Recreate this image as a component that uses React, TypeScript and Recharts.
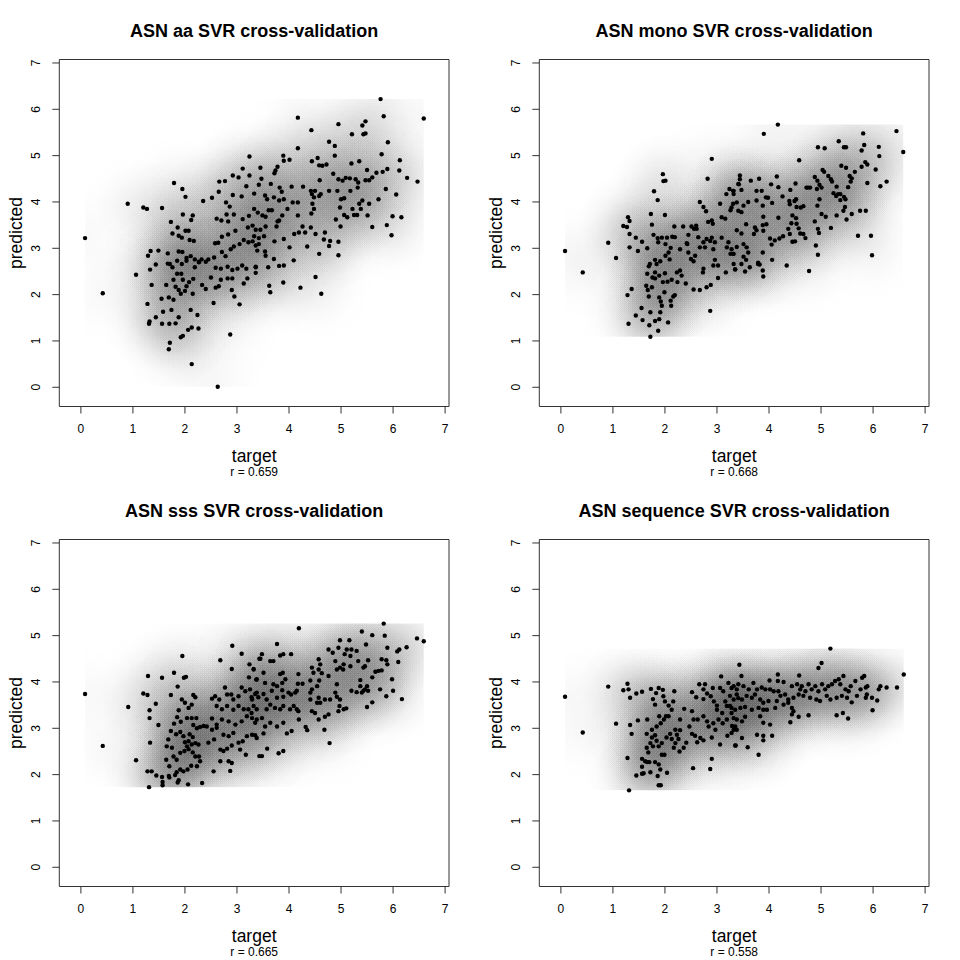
import React from 'react';
import { ScatterChart, Scatter, XAxis, YAxis, ReferenceArea } from 'recharts';

// panel captions
const panelTitles = [
  'ASN aa SVR cross-validation',
  'ASN mono SVR cross-validation',
  'ASN sss SVR cross-validation',
  'ASN sequence SVR cross-validation',
];
const correlations = ['0.659', '0.668', '0.665', '0.558'];
const axisTicks = [0, 1, 2, 3, 4, 5, 6, 7];

// [target, predicted]
const aaPoints: [number, number][] = [
  [0.08,3.22],[0.42,2.03],[0.90,3.96],[1.20,3.88],[1.27,3.85],[1.56,3.87],[1.06,2.43],[1.79,4.41],[1.95,4.28],[2.01,4.11],[2.35,4.02],[2.52,4.09],[3.24,4.98],[2.13,0.50],[2.63,0.01],[1.69,0.82],[1.71,0.96],[2.87,1.14],[1.92,1.08],[1.96,1.11],[2.06,1.24],[2.13,1.29],[2.26,1.27],[1.31,1.37],[1.32,1.42],[1.28,1.80],[1.44,1.51],[1.56,1.37],[1.70,1.37],[1.82,1.38],[1.88,1.51],[1.58,1.63],[1.74,1.67],[2.11,1.67],[2.24,1.56],[1.55,1.91],[1.69,1.94],[1.78,1.89],[2.55,1.82],[2.90,2.10],[2.95,1.96],[3.05,1.79],[1.36,2.21],[1.33,2.54],[1.44,2.65],[1.29,2.84],[1.34,2.94],[1.49,2.95],[1.67,2.89],[1.67,2.67],[1.71,2.66],
  [1.85,2.45],[1.93,2.45],[1.96,2.32],[1.82,2.17],[1.88,2.10],[1.92,2.02],[2.00,2.08],[2.03,2.18],[2.08,2.27],[2.16,2.34],[2.15,2.02],[1.78,2.32],[1.64,2.21],[1.94,2.66],[2.03,2.73],[2.19,2.59],[2.27,2.70],[1.76,2.59],
  [1.73,3.57],[1.96,3.73],[2.15,3.71],[2.12,3.61],[1.86,3.45],[1.76,3.32],[1.88,3.27],[1.94,3.23],[2.01,3.38],[2.07,3.38],[2.09,3.18],[2.17,3.16],[1.88,2.93],[1.95,2.92],[2.03,2.79],[2.11,2.83],[2.19,2.76],[2.27,2.71],[2.32,2.76],[1.85,2.73],[2.45,2.76],[2.40,2.71],
  [2.66,4.44],[2.77,4.45],[2.92,4.57],[3.03,4.53],[3.11,4.72],[3.24,4.57],[3.18,4.34],[2.92,4.15],[3.09,4.12],[3.33,4.18],[3.45,4.74],[2.65,4.22],[2.79,3.99],[2.86,3.90],[2.94,3.73],[2.80,3.73],[2.61,3.64],[2.70,3.60],[2.83,3.58],[3.11,3.63],[3.23,3.70],[3.33,3.85],[3.40,3.77],[3.30,3.49],[3.21,3.45],[2.97,3.38],[2.83,3.30],[2.71,3.25],[2.58,3.11],[2.64,3.12],[2.56,2.80],[2.71,2.92],[2.78,2.83],[2.88,2.98],[2.94,3.04],[3.05,3.09],[3.13,3.18],[3.22,3.13],[3.30,3.15],[3.36,3.06],[2.59,2.58],[2.69,2.56],[2.82,2.60],[2.91,2.53],[3.01,2.56],[3.10,2.63],[3.18,2.56],[3.36,2.60],[2.50,2.37],[2.69,2.32],[2.82,2.35],[2.91,2.35],[3.13,2.24],[3.20,2.35],[3.36,2.47],[2.59,2.15],[2.65,2.18],[2.40,2.12],[2.33,2.21],
  [5.76,6.22],[6.59,5.80],[4.17,5.82],[5.82,5.85],[4.95,5.68],[5.41,5.65],[5.47,5.74],[4.43,5.55],[5.21,5.46],[5.43,5.46],[5.47,5.48],[4.17,5.16],[4.77,5.30],[4.88,5.21],[5.90,5.29],[5.78,5.03],[6.13,4.90],[6.12,4.68],[6.27,4.52],[6.47,4.44],[5.86,4.28],[6.06,4.16],[5.72,4.06],[5.99,3.69],[6.16,3.67],[5.88,3.50],[5.97,3.28],[5.60,3.46],[5.51,3.71],[5.35,3.96],[5.54,3.96],[5.41,4.03],[5.22,3.85],[5.38,3.85],[5.06,3.72],[5.12,3.67],[5.25,3.72],[5.31,3.72],[4.99,3.47],[4.90,3.62],[4.98,3.88],[5.00,4.06],[4.77,4.24],[4.93,4.24],[5.06,4.08],[5.18,4.24],[5.32,4.31],[4.85,4.61],[4.95,4.49],[5.03,4.46],[5.09,4.52],[5.17,4.51],[5.28,4.49],[5.33,4.42],[5.50,4.69],[5.47,4.47],[5.54,4.47],[5.60,4.53],[5.68,4.63],[5.80,4.65],[5.89,4.71],[5.20,4.83],[5.35,4.88],[4.88,5.00],[4.72,4.81],[4.64,4.78],[4.58,4.79],[4.55,4.95],[4.44,4.88],[4.01,4.91],[3.90,4.89],[3.89,5.00],[3.78,4.76],[3.74,4.68],[3.72,4.62],[3.47,4.50],[3.42,4.37],[3.65,4.39],[3.82,4.31],[4.05,4.33],[4.27,4.33],[4.42,4.24],[3.86,4.22],[3.90,4.06],[3.71,4.10],[3.81,4.03],[3.54,4.14],[3.58,4.06],[4.07,3.99],[4.17,3.99],[4.44,4.17],[4.48,4.10],[4.58,4.13],[4.61,4.17],[4.50,4.24],[4.45,3.96],[4.48,3.85],[4.43,3.75],[4.59,4.47],[4.17,3.71],[4.26,3.47],[3.97,3.85],[3.87,3.71],[3.81,3.60],[3.61,3.82],[3.67,3.82],[3.49,3.71],[3.55,3.68],[3.76,3.47],[3.78,3.58],[3.55,3.47],[3.45,3.40],[3.36,3.40],[3.52,3.26],[3.42,3.22],[3.33,3.26],[3.72,3.15],[3.90,3.20],[4.01,3.02],[4.10,3.31],[4.19,3.34],[4.31,3.34],[4.42,3.45],[4.51,3.31],[4.69,3.34],[4.67,3.19],[4.79,3.16],[4.77,3.05],[4.95,3.14],[4.35,3.04],[4.58,2.88],[4.95,2.85],[4.09,2.74],[3.90,2.63],[3.81,2.62],[3.71,2.77],[3.60,2.59],[3.54,2.93],[3.55,2.84],[3.36,2.59],[3.42,3.09],[3.39,2.95],[3.62,2.19],[3.64,2.05],[3.89,2.26],[4.22,2.15],[4.51,2.38],[4.62,2.02],
];

const monoPoints: [number, number][] = [
  [0.08,2.94],[0.42,2.48],[0.91,3.12],[1.06,2.79],[2.90,4.93],[2.82,4.50],[1.96,4.60],[1.97,4.45],[2.01,4.46],[1.79,4.23],[1.86,4.04],[1.73,3.74],[2.00,3.72],[1.75,3.51],[1.29,3.67],[1.32,3.59],[1.20,3.48],[1.27,3.46],[1.32,3.31],[1.44,3.23],[1.56,3.14],[1.48,2.94],[1.32,3.02],[1.66,3.00],[1.78,3.29],[1.86,3.22],[1.94,3.23],[2.04,3.23],[2.14,3.25],[2.19,3.24],[2.18,3.47],[1.87,3.13],[2.01,3.09],[2.11,3.01],[2.07,2.91],[2.01,2.84],[2.35,3.47],[2.29,2.98],[2.43,3.09],[1.81,2.75],[1.91,2.72],[1.84,2.66],[1.71,2.66],[1.69,2.61],[2.09,2.76],[1.66,2.45],[1.81,2.48],[1.89,2.41],[2.00,2.46],[1.81,2.35],[1.96,2.27],[2.05,2.28],[2.13,2.32],[2.24,2.27],[2.23,2.48],[2.29,2.52],[2.32,2.41],[2.40,2.24],[2.55,2.11],[2.67,2.10],[2.80,2.16],[2.88,2.21],[1.64,2.19],[1.67,2.10],[1.75,2.16],[1.76,2.37],[1.36,2.12],[1.28,1.99],[1.69,1.96],[1.99,2.05],[1.89,1.94],[1.92,1.85],[1.94,1.76],[2.16,1.96],[2.11,1.87],[2.19,1.99],[1.55,1.71],[1.44,1.55],[1.57,1.45],[1.72,1.62],[1.91,1.62],[2.12,1.76],[1.30,1.37],[1.81,1.43],[1.89,1.47],[1.70,1.34],[2.06,1.40],[1.87,1.22],[1.72,1.09],[2.87,1.65],
  [2.60,3.49],[2.61,3.42],[2.56,3.42],[2.51,3.47],[2.45,3.29],[2.42,3.11],[2.64,3.24],[2.74,3.13],[2.80,3.20],[2.67,3.02],[2.77,3.02],[2.93,2.98],[2.87,3.16],[2.45,2.91],[2.50,2.77],[2.58,2.84],[2.55,2.72],[2.74,2.56],[2.73,2.48],[2.96,2.75],[3.02,2.63],[2.93,2.63],[3.02,2.36],[3.17,2.48],[2.67,4.00],[2.74,3.89],[2.79,3.80],[2.83,3.57],[2.92,3.53],[2.90,3.60],[3.06,3.96],[3.09,3.67],[3.16,3.64],[3.26,3.82],[3.31,3.96],[3.24,4.28],[3.32,4.24],[3.18,4.17],[3.32,4.17],[2.90,3.23],[2.96,3.13],[3.09,3.23],[3.22,3.13],[3.19,3.02],[3.28,2.98],[3.32,2.88],[3.26,2.88],[3.32,2.66],[3.35,2.54],[3.44,4.49],[3.42,4.38],
  [4.17,5.67],[3.90,5.47],[6.45,5.53],[6.58,5.08],[5.81,5.48],[5.34,5.31],[5.44,5.18],[5.48,5.18],[4.94,5.18],[5.07,5.16],[5.83,5.23],[5.78,5.11],[6.11,5.19],[6.12,4.99],[4.58,4.90],[5.85,4.86],[5.89,4.81],[5.78,4.76],[6.05,4.70],[6.26,4.44],[6.14,4.34],[5.89,4.41],[5.39,4.78],[5.48,4.74],[5.65,4.65],[5.55,4.56],[5.59,4.51],[5.57,4.44],[5.52,4.32],[5.44,4.11],[5.47,4.06],[5.37,4.04],[5.29,4.13],[5.03,4.69],[5.06,4.65],[5.14,4.56],[5.19,4.49],[5.21,4.44],[5.30,4.33],[5.24,4.19],[5.33,4.17],[5.37,4.17],[4.88,4.54],[4.93,4.46],[4.97,4.37],[5.01,4.31],[4.92,4.28],[4.79,4.31],[4.75,4.31],[4.97,4.06],[4.93,3.92],[5.01,3.74],[5.09,3.68],[5.19,3.44],[5.30,3.71],[5.46,3.89],[5.43,3.81],[5.49,3.62],[5.59,3.74],[5.75,3.81],[5.86,3.81],[5.71,3.27],[5.96,3.27],[5.98,2.85],[4.88,3.58],[4.94,3.42],[4.96,3.33],[4.90,3.06],[4.94,2.86],[4.77,2.51],[4.66,3.91],[4.61,3.88],[4.53,3.89],[4.49,4.02],[4.52,4.06],[4.40,3.95],[4.39,4.02],[4.41,4.26],[4.51,4.40],[4.72,4.31],[4.45,3.71],[4.52,3.65],[4.43,3.54],[4.53,3.53],[4.57,3.43],[4.60,3.32],[4.66,3.31],[4.70,3.22],[4.50,3.15],[4.40,3.31],[4.37,3.42],[4.45,3.14],[4.26,4.12],[4.18,4.32],[4.15,4.55],[4.04,4.38],[3.98,4.09],[4.06,3.98],[4.18,3.66],[4.27,3.26],[4.20,3.21],[4.11,3.17],[4.05,3.08],[4.02,3.21],[3.95,3.52],[3.89,3.68],[3.88,3.50],[4.34,2.63],[4.06,2.75],[3.88,2.91],[3.88,2.52],[3.89,2.39],[3.79,2.69],[3.82,2.65],[3.81,4.50],[3.65,4.46],[3.86,4.24],[3.94,4.10],[3.76,4.24],[3.88,3.92],[3.76,4.03],[3.60,4.00],[3.51,3.92],[3.47,3.78],[3.44,4.57],[3.41,4.39],[3.47,4.26],[3.31,4.24],[3.38,3.99],[3.28,3.88],[3.41,3.81],[3.56,3.52],[3.38,3.39],[3.47,3.32],[3.73,3.45],[3.76,3.39],[3.89,3.38],[3.71,3.31],[3.38,3.03],[3.51,3.09],[3.57,3.02],[3.60,2.91],[3.51,2.82],[3.31,2.88],[3.56,2.75],[3.47,2.66],[3.35,2.55],[3.54,2.50],[3.63,2.59],[3.79,2.66],
];

const sssPoints: [number, number][] = [
  [0.08,3.74],[0.42,2.62],[0.91,3.46],[1.06,2.31],[1.29,4.13],[1.56,4.09],[1.79,4.20],[1.95,4.56],[1.98,4.09],[2.02,4.11],[1.86,3.90],[1.73,3.72],[1.20,3.75],[1.28,3.72],[1.44,3.53],[1.32,3.39],[1.32,3.22],[1.49,3.07],[1.33,2.69],[1.28,2.07],[1.36,2.07],[1.45,1.98],[1.31,1.73],[1.56,1.95],[1.57,1.84],[1.57,1.77],[1.69,1.97],[1.81,1.99],[1.86,1.83],[1.88,1.88],[2.06,1.79],[2.33,1.82],[2.55,2.07],[2.87,2.08],
  [1.94,3.62],[2.00,3.55],[2.07,3.44],[2.13,3.51],[2.20,3.67],[2.16,3.72],[1.88,3.39],[1.85,3.24],[1.79,3.10],[1.92,3.14],[2.04,3.22],[2.13,3.22],[2.22,3.22],[2.16,3.07],[2.23,3.00],[2.29,3.03],[2.36,3.05],
  [1.73,2.94],[1.83,2.87],[1.91,2.92],[1.97,2.83],[2.09,2.87],[2.15,2.81],[2.07,2.72],[2.00,2.70],[2.04,2.61],[2.13,2.65],[2.20,2.68],[2.26,2.65],[1.68,2.76],[1.65,2.61],[1.75,2.58],[1.78,2.39],[1.84,2.32],[1.91,2.47],[1.99,2.51],[2.07,2.55],[2.15,2.48],[2.20,2.39],[2.27,2.39],[2.29,2.29],[2.23,2.18],[2.12,2.19],[2.05,2.11],[1.97,2.07],[1.91,2.11],[1.84,2.05],[1.70,2.18],[1.64,2.32],[1.70,1.94],
  [2.52,3.64],[2.58,3.69],[2.66,3.62],[2.77,3.88],[2.81,3.73],[2.89,3.73],[2.93,3.62],[3.03,3.69],[3.09,3.88],[3.16,3.80],[3.25,3.84],[3.29,3.62],[3.38,3.77],[3.09,4.61],[2.91,4.78],[2.68,4.47],[2.90,4.28],[3.24,4.38],[3.32,4.28],[3.23,4.10],[3.37,4.05],[3.43,4.50],[2.61,3.48],[2.71,3.41],[2.81,3.48],[2.93,3.40],[3.03,3.48],[3.13,3.41],[3.22,3.41],[3.32,3.48],[2.52,3.21],[2.61,3.08],[2.71,3.19],[2.84,3.15],[2.97,3.08],[3.09,3.15],[3.19,3.26],[3.29,3.22],[3.38,3.19],[2.42,3.04],[2.52,2.97],[2.61,3.01],[2.74,2.86],[2.84,2.83],[2.93,2.90],[3.03,2.69],[3.11,2.72],[3.19,2.83],[3.29,2.86],[3.38,2.79],[2.45,2.69],[2.56,2.76],[2.68,2.54],[2.74,2.51],[2.81,2.56],[2.90,2.63],[3.06,2.54],[3.17,2.43],[3.43,2.40],[2.68,2.29],[2.84,2.29],[2.90,2.25],
  [4.19,5.16],[5.82,5.26],[6.46,4.94],[6.59,4.88],[5.40,5.09],[5.60,5.01],[5.84,5.00],[5.48,4.81],[5.89,4.74],[6.26,4.75],[6.08,4.66],[6.12,4.70],[4.98,4.90],[5.16,4.90],[4.76,4.70],[4.84,4.63],[4.95,4.74],[5.07,4.60],[5.20,4.70],[5.30,4.67],[5.18,4.56],[5.33,4.45],[5.52,4.47],[5.46,4.34],[5.43,4.31],[5.78,4.49],[5.87,4.47],[5.89,4.38],[6.10,4.43],[6.17,3.63],[5.98,4.06],[6.00,3.81],[5.87,3.69],[5.75,3.84],[5.60,4.10],[5.66,4.22],[5.72,4.24],[5.78,4.25],[5.50,3.91],[5.46,3.84],[5.43,3.81],[5.52,3.81],[5.40,3.77],[5.30,3.78],[5.20,3.81],[5.37,4.04],[5.37,3.91],[5.60,3.56],[5.50,3.46],[5.11,4.70],
  [4.89,4.45],[4.92,4.27],[4.98,4.31],[5.05,4.38],[5.04,4.27],[5.18,4.34],[4.92,3.95],[4.76,4.13],[4.57,4.49],[4.60,4.38],[4.57,4.27],[4.63,4.19],[4.44,4.31],[4.47,4.20],[4.41,4.03],[4.44,3.84],[4.41,3.77],[4.58,4.03],[4.54,3.91],[4.89,3.77],[4.92,3.68],[4.98,3.62],[4.97,3.48],[4.95,3.37],[5.05,3.41],[5.10,3.43],[4.79,3.62],[4.69,3.62],[4.60,3.55],[4.54,3.55],[4.57,3.66],[4.41,3.62],[4.44,3.37],[4.50,3.33],[4.76,3.30],[4.69,3.25],[4.57,3.19],[4.68,2.97],[4.78,2.68],[4.35,2.96],[4.32,3.03],[4.19,3.19],[4.15,3.41],[4.18,4.17],[4.17,3.96],[4.26,3.96],[4.15,3.81],[4.12,3.77],[4.04,3.73],[4.04,4.60],[3.89,4.60],[3.83,4.57],[3.77,4.82],[3.88,4.20],[3.83,4.17],[3.93,4.06],[3.87,3.98],[3.77,3.91],[3.70,3.95],[3.64,4.45],[3.70,4.45],[3.48,4.60],[3.45,4.50],[3.32,4.27],[3.51,4.20],[3.38,4.06],[3.54,3.98],[3.67,3.81],[3.87,3.82],[3.51,3.74],[3.35,3.74],[3.28,3.67],[3.41,3.67],[3.57,3.62],[3.77,3.66],[3.89,3.68],[3.99,3.77],[3.64,3.51],[3.73,3.44],[3.83,3.41],[3.89,3.48],[4.02,3.41],[4.09,3.48],[4.18,3.37],[3.38,3.41],[3.28,3.33],[3.48,3.22],[3.57,3.41],[3.64,3.12],[3.77,3.04],[3.89,3.12],[3.54,3.04],[3.35,3.12],[3.51,2.89],[3.35,2.85],[3.96,2.89],[4.05,2.94],[3.58,2.56],[3.48,2.40],[3.80,2.46],[3.89,2.51],
];

const seqPoints: [number, number][] = [
  [0.08,3.68],[0.42,2.91],[0.91,3.90],[1.06,3.10],[1.28,3.96],[1.20,3.82],[1.30,3.84],[1.33,3.66],[1.45,3.75],[1.56,3.79],[1.33,3.07],[1.36,2.88],[1.28,2.36],[1.45,1.98],[1.56,2.02],[1.56,2.17],[1.62,2.29],[1.70,2.27],[1.31,1.66],
  [1.73,3.85],[1.83,3.76],[1.88,3.87],[1.96,3.83],[1.77,3.63],[1.81,3.51],[1.97,3.69],[2.00,3.58],[2.18,3.80],[2.16,3.58],[2.07,3.49],[2.13,3.40],[2.02,3.26],[1.48,3.17],[1.66,3.19],[1.65,2.88],[1.75,2.97],[1.84,3.04],[1.89,3.26],[1.92,3.11],[1.98,3.19],[2.07,3.26],
  [1.75,2.80],[1.81,2.85],[1.84,2.73],[1.72,2.68],[1.65,2.58],[1.68,2.48],[1.77,2.61],[1.88,2.61],[1.94,2.68],[2.03,2.80],[2.10,2.88],[2.13,2.77],[2.20,2.97],[2.23,2.86],[2.29,2.96],[2.26,2.77],[2.20,2.68],[2.17,2.58],[2.28,2.50],[2.36,2.58],[2.41,2.69],[1.94,2.43],[1.99,2.43],[1.81,2.27],[1.88,2.22],[1.91,2.11],[1.86,1.97],[2.04,2.04],[1.88,1.77],[1.92,1.77],[1.56,2.34],[1.66,2.27],[1.72,2.05],[1.59,2.03],
  [2.29,3.19],[2.37,3.42],[2.52,3.37],[2.55,3.19],[2.47,3.04],[2.52,3.78],[2.60,3.67],[2.66,3.95],[2.74,3.84],[2.77,3.95],[2.81,3.75],[2.88,3.69],[2.92,3.87],[2.74,3.63],[2.52,2.88],[2.58,2.84],[2.68,2.79],[2.74,2.74],[2.62,2.70],[2.54,2.14],[2.87,2.12],[2.90,2.34],[3.06,2.65],[2.90,2.80],
  [2.63,3.19],[2.74,3.26],[2.81,3.15],[2.84,3.04],[2.93,3.11],[2.97,2.97],[3.03,3.19],[3.11,3.11],[3.19,3.19],[3.10,3.33],[3.19,3.48],[3.28,3.33],[3.38,3.19],[3.35,3.04],[3.28,2.90],[3.20,2.84],[3.35,2.63],[3.06,3.87],[3.12,3.80],[3.22,3.98],[3.28,3.87],[3.38,3.84],[3.43,4.37],[3.08,4.12],[2.94,3.58],[3.00,3.49],[3.16,3.58],[3.32,3.62],[3.41,3.65],[3.00,3.40],[3.28,3.44],
  [5.18,4.72],[5.01,4.41],[4.95,4.30],[6.59,4.16],[3.47,4.13],[4.17,4.16],[4.28,4.00],[4.58,4.14],[4.17,4.02],[4.01,4.03],
  [3.32,3.91],[3.41,3.95],[3.51,3.91],[3.61,3.84],[3.70,3.98],[3.77,3.84],[3.86,3.88],[3.93,3.84],[4.02,3.84],[4.09,3.80],[4.18,3.80],[4.22,3.70],[4.31,3.73],[4.44,3.91],[4.54,3.95],[4.60,3.84],[4.63,3.91],[4.70,3.80],[4.76,3.95],[4.82,3.84],[4.89,3.91],[4.95,3.80],[5.02,3.95],[5.08,3.84],[5.14,3.91],[5.21,3.95],[5.27,4.02],[5.34,4.06],[5.37,3.95],[5.43,4.13],[5.47,3.84],[5.53,3.80],[5.57,3.91],[5.66,4.02],[5.79,4.09],[5.83,4.13],[5.86,3.88],[5.89,3.91],[5.76,3.84],[6.14,3.91],[6.26,3.88],[6.46,3.88],[6.11,3.84],
  [3.25,3.70],[3.38,3.73],[3.48,3.62],[3.57,3.70],[3.67,3.66],[3.73,3.73],[3.83,3.62],[3.89,3.55],[3.99,3.59],[4.15,3.59],[4.37,3.62],[4.47,3.66],[4.57,3.73],[4.66,3.70],[4.79,3.66],[4.91,3.62],[4.98,3.59],[5.11,3.70],[5.18,3.62],[5.30,3.66],[5.40,3.70],[5.50,3.66],[5.59,3.56],[5.69,3.70],[5.86,3.66],[5.98,3.66],[6.08,3.60],[5.88,3.73],
  [3.25,3.48],[3.35,3.40],[3.45,3.44],[3.54,3.46],[3.67,3.40],[3.80,3.44],[3.89,3.40],[3.96,3.40],[4.12,3.44],[4.28,3.51],[4.37,3.55],[4.44,3.44],[4.47,3.37],[4.44,3.30],[4.41,3.13],[4.57,3.25],[4.76,3.28],[5.30,3.28],[5.42,3.33],[5.52,3.21],[5.99,3.39],[3.32,3.22],[3.29,3.05],[3.48,3.15],[3.38,2.97],[3.54,3.25],[3.83,3.26],[3.89,3.12],[4.02,3.08],[3.77,2.86],[3.89,2.84],[3.89,2.74],[4.06,2.84],[3.48,2.79],[3.36,2.63],[3.59,2.59],[3.80,2.43],[3.32,2.97],
];

const panelPoints = [aaPoints, monoPoints, sssPoints, seqPoints];

const DOMAIN: [number, number] = [-0.415, 7.075];
const FONT = '"Liberation Sans", Arial, Helvetica, sans-serif';
const PANEL = 480;
const PLOT_LEFT = 59.3;
const PLOT_RIGHT = 449;
const PLOT_TOP = 59.5;
const PLOT_BOTTOM = 406.5;
const PLOT_MID_X = (PLOT_LEFT + PLOT_RIGHT) / 2;
const PLOT_MID_Y = (PLOT_TOP + PLOT_BOTTOM) / 2;

// gaussian-ish kernel for the smoothed density backdrop
const kernelStops = [0, 0.1, 0.2, 0.3, 0.4, 0.5, 0.6, 0.7, 0.8, 0.9, 1].map((t) => ({
  offset: t,
  opacity: t === 1 ? 0 : Math.exp(-(3 * t) * (3 * t) / 2),
}));

const XTick = (props: any) => {
  const { x, y, payload } = props;
  return (
    <text x={x} y={y + 17} textAnchor="middle" fontSize={12} fontFamily={FONT} fill="#000">
      {payload.value}
    </text>
  );
};

const YTick = (props: any) => {
  const { x, y, payload } = props;
  const bx = x - 10;
  return (
    <text x={bx} y={y} transform={`rotate(-90 ${bx} ${y})`} textAnchor="middle" fontSize={12} fontFamily={FONT} fill="#000">
      {payload.value}
    </text>
  );
};

const Panel = ({ idx, left, top }: { idx: number; left: number; top: number }) => {
  const pts = panelPoints[idx];
  const data = pts.map(([x, y]) => ({ x, y }));
  const xs = pts.map((p) => p[0]);
  const ys = pts.map((p) => p[1]);
  const clipId = `dens-clip-${idx}`;

  return (
    <div style={{ position: 'absolute', left, top, width: PANEL, height: PANEL }}>
      <ScatterChart width={PANEL} height={PANEL} margin={{ top: PLOT_TOP, right: PANEL - PLOT_RIGHT, bottom: 0, left: 0 }}>
        <XAxis
          type="number"
          dataKey="x"
          domain={DOMAIN}
          ticks={axisTicks}
          allowDataOverflow
          axisLine={false}
          tickSize={7}
          tickLine={{ stroke: '#333' }}
          height={PANEL - PLOT_BOTTOM}
          tick={XTick}
        />
        <YAxis
          type="number"
          dataKey="y"
          domain={DOMAIN}
          ticks={axisTicks}
          allowDataOverflow
          axisLine={false}
          tickSize={7}
          tickLine={{ stroke: '#333' }}
          width={PLOT_LEFT}
          tick={YTick}
        />
        <ReferenceArea
          x1={Math.min(...xs)}
          x2={Math.max(...xs)}
          y1={Math.min(...ys)}
          y2={Math.max(...ys)}
          ifOverflow="visible"
          shape={(p: any) => (
            <defs>
              <clipPath id={clipId}>
                <rect x={p.x} y={p.y} width={p.width} height={p.height} />
              </clipPath>
            </defs>
          )}
        />
        <Scatter
          data={data}
          isAnimationActive={false}
          shape={(p: any) => (
            <circle cx={p.cx} cy={p.cy} r={60} fill="url(#dens-kernel)" fillOpacity={0.024} clipPath={`url(#${clipId})`} />
          )}
        />
        <Scatter
          data={data}
          isAnimationActive={false}
          shape={(p: any) => <circle cx={p.cx} cy={p.cy} r={2.2} fill="#000" />}
        />
        <ReferenceArea x1={DOMAIN[0]} x2={DOMAIN[1]} y1={DOMAIN[0]} y2={DOMAIN[1]} fill="none" fillOpacity={0} stroke="#333" strokeWidth={1} />
      </ScatterChart>
      <svg width={PANEL} height={PANEL} style={{ position: 'absolute', left: 0, top: 0, pointerEvents: 'none' }}>
        <text x={PLOT_MID_X} y={36.7} textAnchor="middle" fontSize={18} fontWeight="bold" fontFamily={FONT} fill="#000">
          {panelTitles[idx]}
        </text>
        <text x={PLOT_MID_X} y={461.5} textAnchor="middle" fontSize={17.5} fontFamily={FONT} fill="#000">
          target
        </text>
        <text x={PLOT_MID_X} y={476} textAnchor="middle" fontSize={12} fontFamily={FONT} fill="#000">
          {`r = ${correlations[idx]}`}
        </text>
        <text x={22} y={PLOT_MID_Y} transform={`rotate(-90 22 ${PLOT_MID_Y})`} textAnchor="middle" fontSize={17.5} fontFamily={FONT} fill="#000">
          predicted
        </text>
      </svg>
    </div>
  );
};

export default function App() {
  return (
    <div style={{ position: 'absolute', left: 0, top: 0, width: 960, height: 960, background: '#fff' }}>
      <svg width={0} height={0} style={{ position: 'absolute' }}>
        <defs>
          <radialGradient id="dens-kernel">
            {kernelStops.map((s) => (
              <stop key={s.offset} offset={s.offset} stopColor="#000" stopOpacity={s.opacity} />
            ))}
          </radialGradient>
        </defs>
      </svg>
      <Panel idx={0} left={0} top={0} />
      <Panel idx={1} left={PANEL} top={0} />
      <Panel idx={2} left={0} top={PANEL} />
      <Panel idx={3} left={PANEL} top={PANEL} />
    </div>
  );
}
